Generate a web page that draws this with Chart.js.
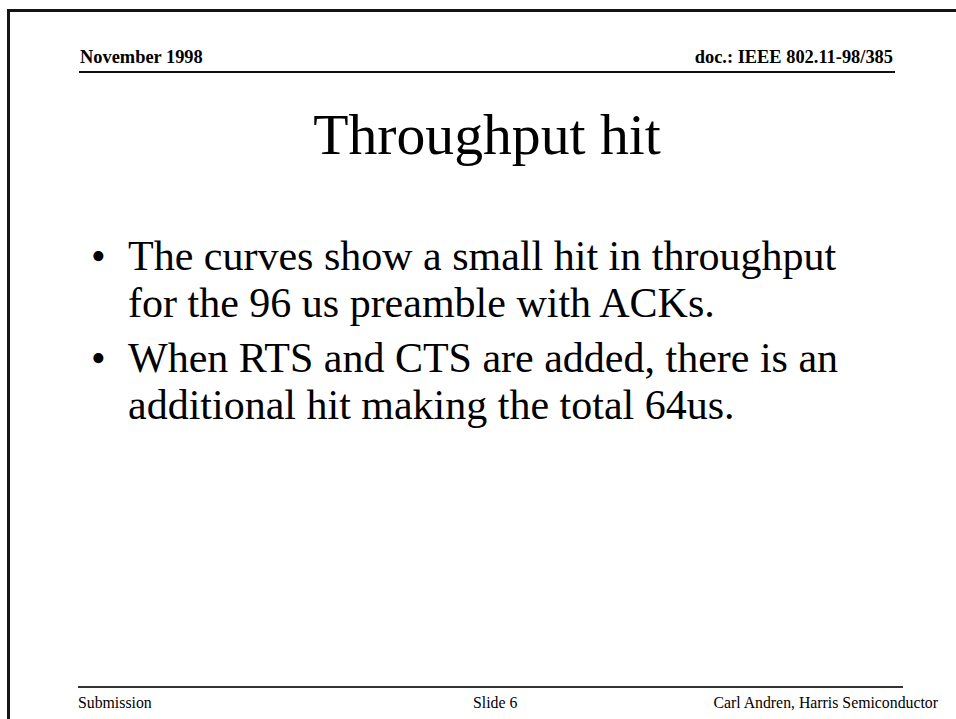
<!DOCTYPE html>
<html lang="en">
<head>
    <meta charset="UTF-8">
    <title>Throughput hit</title>
    <script src="https://cdn.jsdelivr.net/npm/chart.js"></script>
    <style>
        html, body { margin: 0; padding: 0; background: #fff; }
        body { width: 956px; height: 719px; position: relative; overflow: hidden; font-family: "Liberation Serif", "Times New Roman", serif; color: #000; }
        .frame { position: absolute; left: 7px; top: 9px; width: 1000px; height: 800px; border-left: 3px solid #151515; border-top: 3px solid #151515; }
        .hdr { position: absolute; top: 48px; font-size: 18.4px; line-height: 18.4px; font-weight: bold; white-space: nowrap; }
        .rule { position: absolute; height: 2px; background: #111; }
        #titleBox { position: absolute; left: 9px; top: 104px; width: 956px; height: 80px; }
        .bullet { position: absolute; font-size: 42px; line-height: 47px; white-space: nowrap; }
        .bullet .dot { position: absolute; left: -37px; top: 0; }
        .ftr { position: absolute; top: 695px; font-size: 15.8px; line-height: 15.8px; white-space: nowrap; }
    </style>
</head>
<body>
    <div class="frame"></div>

    <div class="hdr" id="hdrLeft" style="left:80px"></div>
    <div class="hdr" id="hdrRight" style="right:63px"></div>
    <div class="rule" style="left:79px; width:816px; top:71px"></div>

    <!-- slide title drawn by chart.js title plugin -->
    <div id="titleBox"><canvas id="slideChart"></canvas></div>

    <div id="bullets"></div>

    <div class="rule" style="left:78px; width:825px; top:686px; background:#333"></div>
    <div class="ftr" id="ftrLeft" style="left:78px"></div>
    <div class="ftr" id="ftrMid" style="left:473px"></div>
    <div class="ftr" id="ftrRight" style="right:18px"></div>

    <script>
        // slide texts
        var headerLeft = 'November 1998';
        var headerRight = 'doc.: IEEE 802.11-98/385';
        var slideTitle = 'Throughput hit';
        var bulletLines = [
            ['The curves show a small hit in throughput', 'for the 96 us preamble with ACKs.'],
            ['When RTS and CTS are added, there is an', 'additional hit making the total 64us.']
        ];
        var footerLeft = 'Submission';
        var footerMid = 'Slide 6';
        var footerRight = 'Carl Andren, Harris Semiconductor';

        document.getElementById('hdrLeft').textContent = headerLeft;
        document.getElementById('hdrRight').textContent = headerRight;
        document.getElementById('ftrLeft').textContent = footerLeft;
        document.getElementById('ftrMid').textContent = footerMid;
        document.getElementById('ftrRight').textContent = footerRight;

        // bullets
        var holder = document.getElementById('bullets');
        var tops = [233, 335];
        bulletLines.forEach(function(lines, i) {
            var b = document.createElement('div');
            b.className = 'bullet';
            b.style.left = '128px';
            b.style.top = tops[i] + 'px';
            var dot = document.createElement('span');
            dot.className = 'dot';
            dot.textContent = '\u2022';
            b.appendChild(dot);
            lines.forEach(function(t, j) {
                if (j > 0) b.appendChild(document.createElement('br'));
                b.appendChild(document.createTextNode(t));
            });
            holder.appendChild(b);
        });

        // Chart.js - no data marks on this slide, just the title
        var ctx = document.getElementById('slideChart').getContext('2d');
        var slideChart = new Chart(ctx, {
            type: 'line',
            data: { labels: [], datasets: [] },
            options: {
                responsive: true,
                maintainAspectRatio: false,
                animation: false,
                layout: { padding: 0 },
                plugins: {
                    legend: { display: false },
                    tooltip: { enabled: false },
                    title: {
                        display: true,
                        text: slideTitle,
                        color: '#000',
                        padding: 0,
                        font: { family: 'Liberation Serif', size: 57.7, weight: 'normal', lineHeight: 1.2 }
                    }
                },
                scales: {
                    x: { display: false },
                    y: { display: false }
                }
            }
        });
    </script>
</body>
</html>
